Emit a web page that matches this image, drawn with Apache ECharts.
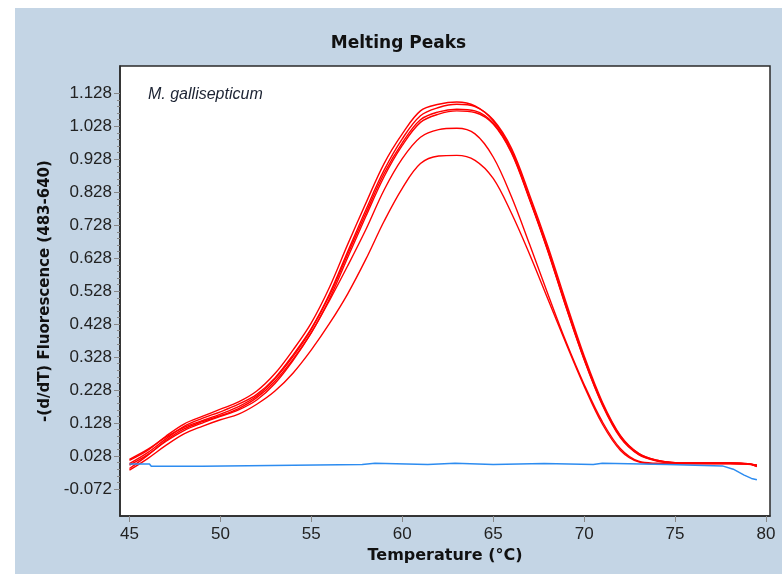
<!DOCTYPE html>
<html>
<head>
<meta charset="utf-8">
<script src="https://cdn.jsdelivr.net/npm/echarts@6/dist/echarts.min.js"></script>
<style>
  html, body { margin: 0; padding: 0; background: #fff; }
  #chart { position: absolute; left: 15px; top: 8px; width: 767px; height: 566px; background: #c4d5e5; }
</style>
</head>
<body>
<div id="chart"></div>
<script>
// temperatures (°C) where the melting curves were read
var temps = [45,46,47,48,49,50,51,52,53,54,55,56,57,58,59,60,61,62,63,64,65,66,67,68,69,70,71,72,73,74,75,76,77,78,79,79.5];

// six positive samples (red)
var sampleA = [0.015,0.045,0.088,0.125,0.148,0.170,0.192,0.225,0.278,0.350,0.432,0.540,0.670,0.795,0.915,1.005,1.075,1.095,1.102,1.090,1.045,0.955,0.810,0.655,0.485,0.325,0.188,0.088,0.035,0.015,0.008,0.007,0.007,0.007,0.005,0.000];
var sampleB = [0.005,0.038,0.080,0.118,0.142,0.162,0.185,0.215,0.265,0.335,0.415,0.520,0.648,0.775,0.895,0.990,1.060,1.085,1.095,1.088,1.048,0.962,0.820,0.665,0.495,0.332,0.192,0.090,0.036,0.015,0.008,0.007,0.007,0.007,0.005,-0.002];
var sampleC = [0.018,0.048,0.085,0.115,0.135,0.155,0.178,0.210,0.262,0.330,0.412,0.515,0.640,0.765,0.885,0.978,1.048,1.072,1.080,1.075,1.038,0.950,0.808,0.652,0.482,0.322,0.185,0.085,0.033,0.014,0.007,0.006,0.006,0.006,0.004,-0.003];
var sampleD = [-0.010,0.030,0.075,0.110,0.132,0.150,0.172,0.205,0.255,0.322,0.402,0.505,0.630,0.755,0.875,0.970,1.040,1.065,1.075,1.070,1.035,0.948,0.805,0.650,0.480,0.320,0.183,0.083,0.032,0.013,0.007,0.006,0.006,0.006,0.004,-0.004];
var sampleE = [0.000,0.032,0.072,0.105,0.128,0.148,0.168,0.198,0.248,0.318,0.402,0.500,0.605,0.715,0.835,0.930,0.995,1.018,1.022,1.005,0.935,0.815,0.670,0.520,0.375,0.245,0.132,0.050,0.012,0.006,0.005,0.005,0.005,0.005,0.004,0.000];
var sampleF = [-0.015,0.020,0.060,0.095,0.118,0.138,0.155,0.185,0.225,0.280,0.350,0.430,0.520,0.625,0.740,0.840,0.915,0.938,0.940,0.925,0.870,0.765,0.640,0.505,0.370,0.240,0.125,0.045,0.010,0.004,0.004,0.004,0.004,0.004,0.003,0.000];

// negative control (blue), stepped trace
var blueTemps  = [45, 46.1, 46.2, 49, 49.1, 57.8, 57.9, 58.5, 58.6, 61.4, 61.5, 62.9, 63, 65, 65.1, 67.8, 67.9, 70.5, 70.6, 71, 71.1, 74.6, 74.7, 77.6, 78.2, 78.8, 79.2, 79.5];
var blueValues = [0.004, 0.004, -0.003, -0.003, 0.002, 0.002, 0.006, 0.006, 0.002, 0.002, 0.006, 0.006, 0.002, 0.002, 0.005, 0.005, 0.002, 0.002, 0.006, 0.006, 0.002, 0.002, -0.002, -0.002, -0.012, -0.030, -0.040, -0.044];

// tick labels
var xTicks = [45, 50, 55, 60, 65, 70, 75, 80];
var yTickLabels = ['-0.072','0.028','0.128','0.228','0.328','0.428','0.528','0.628','0.728','0.828','0.928','1.028','1.128'];

var yTicks = yTickLabels.map(Number);
var yMinor = [];
for (var i = 0; i < yTicks.length - 1; i++) {
    for (var k = 1; k < 5; k++) yMinor.push(+(yTicks[i] + k * 0.02).toFixed(3));
}

function pairs(xs, ys) {
    return xs.map(function (x, i) { return [x, ys[i]]; });
}

var yMin = -0.154, yMax = 1.211;
var redSeries = [sampleA, sampleB, sampleC, sampleD, sampleE, sampleF].map(function (s) {
    return {
        type: 'line',
        data: pairs(temps, s),
        showSymbol: false,
        smooth: 0.35,
        lineStyle: { color: '#ff0000', width: 1.4 },
        silent: true
    };
});

var myChart = echarts.init(document.getElementById('chart'));
var option = {
    animation: false,
    title: {
        text: 'Melting Peaks',
        left: 'center',
        top: 22,
        textStyle: { fontFamily: 'DejaVu Sans', fontWeight: 'bold', fontSize: 17, color: '#111' }
    },
    grid: {
        left: 105, top: 58, width: 650, height: 450,
        show: true,
        backgroundColor: '#ffffff',
        borderColor: '#2a2a2a',
        borderWidth: 1.5,
        containLabel: false
    },
    graphic: [{
        type: 'text',
        left: 133,
        top: 79,
        style: {
            text: 'M. gallisepticum',
            font: 'italic 16px "Liberation Sans"',
            fill: '#1c2333'
        }
    }],
    xAxis: {
        type: 'value',
        min: 44.48,
        max: 80.22,
        name: 'Temperature (°C)',
        nameLocation: 'middle',
        nameGap: 31,
        nameTextStyle: { fontFamily: 'DejaVu Sans', fontWeight: 'bold', fontSize: 16, color: '#111', verticalAlign: 'top' },
        axisLine: { show: true, onZero: false, lineStyle: { color: '#2a2a2a', width: 1.5 } },
        axisTick: { show: true, customValues: xTicks, length: 6, lineStyle: { color: '#888' } },
        axisLabel: { customValues: xTicks, margin: 10, fontFamily: 'Liberation Sans', fontSize: 17, color: '#222' },
        splitLine: { show: false }
    },
    yAxis: [{
        type: 'value',
        min: yMin,
        max: yMax,
        name: '-(d/dT) Fluorescence (483-640)',
        nameLocation: 'middle',
        nameGap: 66,
        nameRotate: 90,
        nameTextStyle: { fontFamily: 'DejaVu Sans', fontWeight: 'bold', fontSize: 15, color: '#111' },
        axisLine: { show: true, onZero: false, lineStyle: { color: '#2a2a2a', width: 1.5 } },
        axisTick: { show: true, customValues: yTicks, length: 6, lineStyle: { color: '#888' } },
        axisLabel: {
            customValues: yTicks,
            margin: 8,
            fontFamily: 'Liberation Sans',
            fontSize: 17,
            color: '#222',
            formatter: function (v) { return v.toFixed(3); }
        },
        splitLine: { show: false }
    }, {
        type: 'value',
        min: yMin,
        max: yMax,
        position: 'left',
        axisLine: { show: false, onZero: false },
        axisTick: { show: true, customValues: yMinor, length: 3, lineStyle: { color: '#888' } },
        axisLabel: { show: false },
        splitLine: { show: false }
    }],
    series: redSeries.concat([{
        type: 'line',
        data: pairs(blueTemps, blueValues),
        showSymbol: false,
        lineStyle: { color: '#2d8cf0', width: 1.5 },
        silent: true
    }])
};
myChart.setOption(option, true);
</script>
</body>
</html>
